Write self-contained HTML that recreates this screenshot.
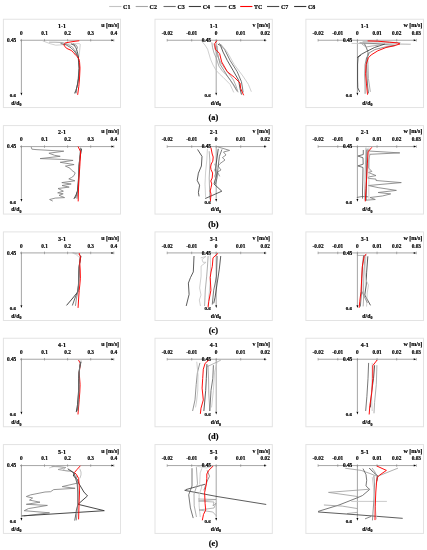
<!DOCTYPE html>
<html><head><meta charset="utf-8"><style>
html,body{margin:0;padding:0;background:#fff;}
svg{display:block;font-family:'Liberation Serif', serif;will-change:transform;filter:blur(0.3px);} text{stroke:#000;stroke-width:0.18px;fill:#000;}
</style></head><body>
<svg width="427" height="550" viewBox="0 0 427 550">
<rect width="427" height="550" fill="#fff"/>
<line x1="109.2" y1="6.5" x2="121.4" y2="6.5" stroke="#c4c4c4" stroke-width="1.1"/>
<text x="123.10" y="8.90" font-size="6.0" text-anchor="start" font-weight="bold" >C1</text>
<line x1="135.7" y1="6.5" x2="147.9" y2="6.5" stroke="#a6a6a6" stroke-width="1.1"/>
<text x="149.60" y="8.90" font-size="6.0" text-anchor="start" font-weight="bold" >C2</text>
<line x1="163.5" y1="6.5" x2="175.7" y2="6.5" stroke="#6e6e6e" stroke-width="1.1"/>
<text x="177.40" y="8.90" font-size="6.0" text-anchor="start" font-weight="bold" >C3</text>
<line x1="188.8" y1="6.5" x2="201.0" y2="6.5" stroke="#3c3c3c" stroke-width="1.1"/>
<text x="202.70" y="8.90" font-size="6.0" text-anchor="start" font-weight="bold" >C4</text>
<line x1="214.5" y1="6.5" x2="226.7" y2="6.5" stroke="#5c5c5c" stroke-width="1.1"/>
<text x="228.40" y="8.90" font-size="6.0" text-anchor="start" font-weight="bold" >C5</text>
<line x1="240.2" y1="6.5" x2="252.4" y2="6.5" stroke="#ff0000" stroke-width="1.1"/>
<text x="254.10" y="8.90" font-size="6.0" text-anchor="start" font-weight="bold" >TC</text>
<line x1="267.0" y1="6.5" x2="279.2" y2="6.5" stroke="#4a4a4a" stroke-width="1.1"/>
<text x="280.90" y="8.90" font-size="6.0" text-anchor="start" font-weight="bold" >C7</text>
<line x1="294.1" y1="6.5" x2="306.3" y2="6.5" stroke="#363636" stroke-width="1.1"/>
<text x="308.00" y="8.90" font-size="6.0" text-anchor="start" font-weight="bold" >C8</text>
<rect x="3.40" y="19.25" width="117.1" height="88.3" fill="none" stroke="#e3e3e3" stroke-width="1.0"/>
<line x1="21.40" y1="40.25" x2="111.80" y2="40.25" stroke="#808080" stroke-width="0.7"/>
<path d="M114.00,40.25 l-2.6,-1.0 l0,2.0 z" fill="#000"/>
<line x1="21.40" y1="38.95" x2="21.40" y2="41.55" stroke="#808080" stroke-width="0.6"/>
<text x="21.40" y="34.55" font-size="5.3" text-anchor="middle" font-weight="bold" >0</text>
<line x1="44.50" y1="38.95" x2="44.50" y2="41.55" stroke="#808080" stroke-width="0.6"/>
<text x="44.50" y="34.55" font-size="5.3" text-anchor="middle" font-weight="bold" >0.1</text>
<line x1="67.60" y1="38.95" x2="67.60" y2="41.55" stroke="#808080" stroke-width="0.6"/>
<text x="67.60" y="34.55" font-size="5.3" text-anchor="middle" font-weight="bold" >0.2</text>
<line x1="90.70" y1="38.95" x2="90.70" y2="41.55" stroke="#808080" stroke-width="0.6"/>
<text x="90.70" y="34.55" font-size="5.3" text-anchor="middle" font-weight="bold" >0.3</text>
<line x1="113.80" y1="38.95" x2="113.80" y2="41.55" stroke="#808080" stroke-width="0.6"/>
<text x="113.80" y="34.55" font-size="5.3" text-anchor="middle" font-weight="bold" >0.4</text>
<line x1="20.00" y1="40.25" x2="21.40" y2="40.25" stroke="#808080" stroke-width="0.7"/>
<line x1="21.40" y1="40.25" x2="21.40" y2="92.45" stroke="#808080" stroke-width="0.7"/>
<path d="M21.40,95.45 l-0.95,-2.8 l1.9,0 z" fill="#000"/>
<text x="61.95" y="27.75" font-size="6.0" text-anchor="middle" font-weight="bold" >1-1</text>
<text x="119.00" y="26.65" font-size="6.0" text-anchor="end" font-weight="bold" >u [m/s]</text>
<text x="16.20" y="42.05" font-size="5.3" text-anchor="end" font-weight="bold" >0.45</text>
<text x="16.00" y="97.45" font-size="5.0" text-anchor="end" font-weight="bold" >0.6</text>
<text x="16.40" y="104.75" font-size="5.8" text-anchor="middle" font-weight="bold">d/d<tspan font-size="4" dy="1.2">0</tspan></text>
<rect x="155.00" y="19.25" width="117.3" height="88.3" fill="none" stroke="#e3e3e3" stroke-width="1.0"/>
<line x1="167.20" y1="40.25" x2="264.43" y2="40.25" stroke="#808080" stroke-width="0.7"/>
<path d="M266.62,40.25 l-2.6,-1.0 l0,2.0 z" fill="#000"/>
<line x1="167.20" y1="38.95" x2="167.20" y2="41.55" stroke="#808080" stroke-width="0.6"/>
<text x="167.20" y="34.55" font-size="5.3" text-anchor="middle" font-weight="bold" >-0.02</text>
<line x1="191.70" y1="38.95" x2="191.70" y2="41.55" stroke="#808080" stroke-width="0.6"/>
<text x="191.70" y="34.55" font-size="5.3" text-anchor="middle" font-weight="bold" >-0.01</text>
<line x1="216.20" y1="38.95" x2="216.20" y2="41.55" stroke="#808080" stroke-width="0.6"/>
<text x="216.20" y="34.55" font-size="5.3" text-anchor="middle" font-weight="bold" >0</text>
<line x1="240.70" y1="38.95" x2="240.70" y2="41.55" stroke="#808080" stroke-width="0.6"/>
<text x="240.70" y="34.55" font-size="5.3" text-anchor="middle" font-weight="bold" >0.01</text>
<line x1="265.20" y1="38.95" x2="265.20" y2="41.55" stroke="#808080" stroke-width="0.6"/>
<text x="265.20" y="34.55" font-size="5.3" text-anchor="middle" font-weight="bold" >0.02</text>
<line x1="216.20" y1="40.25" x2="216.20" y2="92.45" stroke="#808080" stroke-width="0.7"/>
<path d="M216.20,95.45 l-0.95,-2.8 l1.9,0 z" fill="#000"/>
<text x="213.65" y="27.75" font-size="6.0" text-anchor="middle" font-weight="bold" >1-1</text>
<text x="270.00" y="26.65" font-size="6.0" text-anchor="end" font-weight="bold" >v [m/s]</text>
<text x="211.00" y="42.05" font-size="5.3" text-anchor="end" font-weight="bold" >0.45</text>
<text x="210.80" y="97.45" font-size="5.0" text-anchor="end" font-weight="bold" >0.6</text>
<text x="215.90" y="104.75" font-size="5.8" text-anchor="middle" font-weight="bold">d/d<tspan font-size="4" dy="1.2">0</tspan></text>
<rect x="305.90" y="19.25" width="117.6" height="88.3" fill="none" stroke="#e3e3e3" stroke-width="1.0"/>
<line x1="318.10" y1="40.25" x2="414.15" y2="40.25" stroke="#808080" stroke-width="0.7"/>
<path d="M416.35,40.25 l-2.6,-1.0 l0,2.0 z" fill="#000"/>
<line x1="318.10" y1="38.95" x2="318.10" y2="41.55" stroke="#808080" stroke-width="0.6"/>
<text x="318.10" y="34.55" font-size="5.3" text-anchor="middle" font-weight="bold" >-0.02</text>
<line x1="337.75" y1="38.95" x2="337.75" y2="41.55" stroke="#808080" stroke-width="0.6"/>
<text x="337.75" y="34.55" font-size="5.3" text-anchor="middle" font-weight="bold" >-0.01</text>
<line x1="357.40" y1="38.95" x2="357.40" y2="41.55" stroke="#808080" stroke-width="0.6"/>
<text x="357.40" y="34.55" font-size="5.3" text-anchor="middle" font-weight="bold" >0</text>
<line x1="377.05" y1="38.95" x2="377.05" y2="41.55" stroke="#808080" stroke-width="0.6"/>
<text x="377.05" y="34.55" font-size="5.3" text-anchor="middle" font-weight="bold" >0.01</text>
<line x1="396.70" y1="38.95" x2="396.70" y2="41.55" stroke="#808080" stroke-width="0.6"/>
<text x="396.70" y="34.55" font-size="5.3" text-anchor="middle" font-weight="bold" >0.02</text>
<line x1="416.35" y1="38.95" x2="416.35" y2="41.55" stroke="#808080" stroke-width="0.6"/>
<text x="416.35" y="34.55" font-size="5.3" text-anchor="middle" font-weight="bold" >0.03</text>
<line x1="357.40" y1="40.25" x2="357.40" y2="92.45" stroke="#808080" stroke-width="0.7"/>
<path d="M357.40,95.45 l-0.95,-2.8 l1.9,0 z" fill="#000"/>
<text x="364.70" y="27.75" font-size="6.0" text-anchor="middle" font-weight="bold" >1-1</text>
<text x="422.30" y="26.65" font-size="6.0" text-anchor="end" font-weight="bold" >w [m/s]</text>
<text x="352.20" y="42.05" font-size="5.3" text-anchor="end" font-weight="bold" >0.45</text>
<text x="352.00" y="97.45" font-size="5.0" text-anchor="end" font-weight="bold" >0.6</text>
<text x="367.40" y="104.75" font-size="5.8" text-anchor="middle" font-weight="bold">d/d<tspan font-size="4" dy="1.2">0</tspan></text>
<text x="213.40" y="120.25" font-size="8.4" text-anchor="middle" font-weight="bold" >(a)</text>
<rect x="3.40" y="125.58" width="117.1" height="88.5" fill="none" stroke="#e3e3e3" stroke-width="1.0"/>
<line x1="21.40" y1="146.58" x2="111.80" y2="146.58" stroke="#808080" stroke-width="0.7"/>
<path d="M114.00,146.58 l-2.6,-1.0 l0,2.0 z" fill="#000"/>
<line x1="21.40" y1="145.28" x2="21.40" y2="147.88" stroke="#808080" stroke-width="0.6"/>
<text x="21.40" y="141.18" font-size="5.3" text-anchor="middle" font-weight="bold" >0</text>
<line x1="44.50" y1="145.28" x2="44.50" y2="147.88" stroke="#808080" stroke-width="0.6"/>
<text x="44.50" y="141.18" font-size="5.3" text-anchor="middle" font-weight="bold" >0.1</text>
<line x1="67.60" y1="145.28" x2="67.60" y2="147.88" stroke="#808080" stroke-width="0.6"/>
<text x="67.60" y="141.18" font-size="5.3" text-anchor="middle" font-weight="bold" >0.2</text>
<line x1="90.70" y1="145.28" x2="90.70" y2="147.88" stroke="#808080" stroke-width="0.6"/>
<text x="90.70" y="141.18" font-size="5.3" text-anchor="middle" font-weight="bold" >0.3</text>
<line x1="113.80" y1="145.28" x2="113.80" y2="147.88" stroke="#808080" stroke-width="0.6"/>
<text x="113.80" y="141.18" font-size="5.3" text-anchor="middle" font-weight="bold" >0.4</text>
<line x1="20.00" y1="146.58" x2="21.40" y2="146.58" stroke="#808080" stroke-width="0.7"/>
<line x1="21.40" y1="146.58" x2="21.40" y2="198.78" stroke="#808080" stroke-width="0.7"/>
<path d="M21.40,201.78 l-0.95,-2.8 l1.9,0 z" fill="#000"/>
<text x="61.95" y="134.38" font-size="6.0" text-anchor="middle" font-weight="bold" >2-1</text>
<text x="119.00" y="133.28" font-size="6.0" text-anchor="end" font-weight="bold" >u [m/s]</text>
<text x="16.20" y="148.38" font-size="5.3" text-anchor="end" font-weight="bold" >0.45</text>
<text x="16.00" y="203.78" font-size="5.0" text-anchor="end" font-weight="bold" >0.6</text>
<text x="16.40" y="211.38" font-size="5.8" text-anchor="middle" font-weight="bold">d/d<tspan font-size="4" dy="1.2">0</tspan></text>
<rect x="155.00" y="125.58" width="117.3" height="88.5" fill="none" stroke="#e3e3e3" stroke-width="1.0"/>
<line x1="167.20" y1="146.58" x2="264.43" y2="146.58" stroke="#808080" stroke-width="0.7"/>
<path d="M266.62,146.58 l-2.6,-1.0 l0,2.0 z" fill="#000"/>
<line x1="167.20" y1="145.28" x2="167.20" y2="147.88" stroke="#808080" stroke-width="0.6"/>
<text x="167.20" y="141.18" font-size="5.3" text-anchor="middle" font-weight="bold" >-0.02</text>
<line x1="191.70" y1="145.28" x2="191.70" y2="147.88" stroke="#808080" stroke-width="0.6"/>
<text x="191.70" y="141.18" font-size="5.3" text-anchor="middle" font-weight="bold" >-0.01</text>
<line x1="216.20" y1="145.28" x2="216.20" y2="147.88" stroke="#808080" stroke-width="0.6"/>
<text x="216.20" y="141.18" font-size="5.3" text-anchor="middle" font-weight="bold" >0</text>
<line x1="240.70" y1="145.28" x2="240.70" y2="147.88" stroke="#808080" stroke-width="0.6"/>
<text x="240.70" y="141.18" font-size="5.3" text-anchor="middle" font-weight="bold" >0.01</text>
<line x1="265.20" y1="145.28" x2="265.20" y2="147.88" stroke="#808080" stroke-width="0.6"/>
<text x="265.20" y="141.18" font-size="5.3" text-anchor="middle" font-weight="bold" >0.02</text>
<line x1="216.20" y1="146.58" x2="216.20" y2="198.78" stroke="#808080" stroke-width="0.7"/>
<path d="M216.20,201.78 l-0.95,-2.8 l1.9,0 z" fill="#000"/>
<text x="213.65" y="134.38" font-size="6.0" text-anchor="middle" font-weight="bold" >2-1</text>
<text x="270.00" y="133.28" font-size="6.0" text-anchor="end" font-weight="bold" >v [m/s]</text>
<text x="211.00" y="148.38" font-size="5.3" text-anchor="end" font-weight="bold" >0.45</text>
<text x="210.80" y="203.78" font-size="5.0" text-anchor="end" font-weight="bold" >0.6</text>
<text x="215.90" y="211.38" font-size="5.8" text-anchor="middle" font-weight="bold">d/d<tspan font-size="4" dy="1.2">0</tspan></text>
<rect x="305.90" y="125.58" width="117.6" height="88.5" fill="none" stroke="#e3e3e3" stroke-width="1.0"/>
<line x1="318.10" y1="146.58" x2="414.15" y2="146.58" stroke="#808080" stroke-width="0.7"/>
<path d="M416.35,146.58 l-2.6,-1.0 l0,2.0 z" fill="#000"/>
<line x1="318.10" y1="145.28" x2="318.10" y2="147.88" stroke="#808080" stroke-width="0.6"/>
<text x="318.10" y="141.18" font-size="5.3" text-anchor="middle" font-weight="bold" >-0.02</text>
<line x1="337.75" y1="145.28" x2="337.75" y2="147.88" stroke="#808080" stroke-width="0.6"/>
<text x="337.75" y="141.18" font-size="5.3" text-anchor="middle" font-weight="bold" >-0.01</text>
<line x1="357.40" y1="145.28" x2="357.40" y2="147.88" stroke="#808080" stroke-width="0.6"/>
<text x="357.40" y="141.18" font-size="5.3" text-anchor="middle" font-weight="bold" >0</text>
<line x1="377.05" y1="145.28" x2="377.05" y2="147.88" stroke="#808080" stroke-width="0.6"/>
<text x="377.05" y="141.18" font-size="5.3" text-anchor="middle" font-weight="bold" >0.01</text>
<line x1="396.70" y1="145.28" x2="396.70" y2="147.88" stroke="#808080" stroke-width="0.6"/>
<text x="396.70" y="141.18" font-size="5.3" text-anchor="middle" font-weight="bold" >0.02</text>
<line x1="416.35" y1="145.28" x2="416.35" y2="147.88" stroke="#808080" stroke-width="0.6"/>
<text x="416.35" y="141.18" font-size="5.3" text-anchor="middle" font-weight="bold" >0.03</text>
<line x1="357.40" y1="146.58" x2="357.40" y2="198.78" stroke="#808080" stroke-width="0.7"/>
<path d="M357.40,201.78 l-0.95,-2.8 l1.9,0 z" fill="#000"/>
<text x="364.70" y="134.38" font-size="6.0" text-anchor="middle" font-weight="bold" >2-1</text>
<text x="422.30" y="133.28" font-size="6.0" text-anchor="end" font-weight="bold" >w [m/s]</text>
<text x="352.20" y="148.38" font-size="5.3" text-anchor="end" font-weight="bold" >0.45</text>
<text x="352.00" y="203.78" font-size="5.0" text-anchor="end" font-weight="bold" >0.6</text>
<text x="367.40" y="211.38" font-size="5.8" text-anchor="middle" font-weight="bold">d/d<tspan font-size="4" dy="1.2">0</tspan></text>
<text x="213.40" y="226.58" font-size="8.4" text-anchor="middle" font-weight="bold" >(b)</text>
<rect x="3.40" y="231.91" width="117.1" height="88.6" fill="none" stroke="#e3e3e3" stroke-width="1.0"/>
<line x1="21.40" y1="252.91" x2="111.80" y2="252.91" stroke="#808080" stroke-width="0.7"/>
<path d="M114.00,252.91 l-2.6,-1.0 l0,2.0 z" fill="#000"/>
<line x1="21.40" y1="251.61" x2="21.40" y2="254.21" stroke="#808080" stroke-width="0.6"/>
<text x="21.40" y="247.71" font-size="5.3" text-anchor="middle" font-weight="bold" >0</text>
<line x1="44.50" y1="251.61" x2="44.50" y2="254.21" stroke="#808080" stroke-width="0.6"/>
<text x="44.50" y="247.71" font-size="5.3" text-anchor="middle" font-weight="bold" >0.1</text>
<line x1="67.60" y1="251.61" x2="67.60" y2="254.21" stroke="#808080" stroke-width="0.6"/>
<text x="67.60" y="247.71" font-size="5.3" text-anchor="middle" font-weight="bold" >0.2</text>
<line x1="90.70" y1="251.61" x2="90.70" y2="254.21" stroke="#808080" stroke-width="0.6"/>
<text x="90.70" y="247.71" font-size="5.3" text-anchor="middle" font-weight="bold" >0.3</text>
<line x1="113.80" y1="251.61" x2="113.80" y2="254.21" stroke="#808080" stroke-width="0.6"/>
<text x="113.80" y="247.71" font-size="5.3" text-anchor="middle" font-weight="bold" >0.4</text>
<line x1="20.00" y1="252.91" x2="21.40" y2="252.91" stroke="#808080" stroke-width="0.7"/>
<line x1="21.40" y1="252.91" x2="21.40" y2="305.11" stroke="#808080" stroke-width="0.7"/>
<path d="M21.40,308.11 l-0.95,-2.8 l1.9,0 z" fill="#000"/>
<text x="61.95" y="240.91" font-size="6.0" text-anchor="middle" font-weight="bold" >3-1</text>
<text x="119.00" y="239.81" font-size="6.0" text-anchor="end" font-weight="bold" >u [m/s]</text>
<text x="16.20" y="254.71" font-size="5.3" text-anchor="end" font-weight="bold" >0.45</text>
<text x="16.00" y="310.11" font-size="5.0" text-anchor="end" font-weight="bold" >0.6</text>
<text x="16.40" y="318.21" font-size="5.8" text-anchor="middle" font-weight="bold">d/d<tspan font-size="4" dy="1.2">0</tspan></text>
<rect x="155.00" y="231.91" width="117.3" height="88.6" fill="none" stroke="#e3e3e3" stroke-width="1.0"/>
<line x1="167.20" y1="252.91" x2="264.43" y2="252.91" stroke="#808080" stroke-width="0.7"/>
<path d="M266.62,252.91 l-2.6,-1.0 l0,2.0 z" fill="#000"/>
<line x1="167.20" y1="251.61" x2="167.20" y2="254.21" stroke="#808080" stroke-width="0.6"/>
<text x="167.20" y="247.71" font-size="5.3" text-anchor="middle" font-weight="bold" >-0.02</text>
<line x1="191.70" y1="251.61" x2="191.70" y2="254.21" stroke="#808080" stroke-width="0.6"/>
<text x="191.70" y="247.71" font-size="5.3" text-anchor="middle" font-weight="bold" >-0.01</text>
<line x1="216.20" y1="251.61" x2="216.20" y2="254.21" stroke="#808080" stroke-width="0.6"/>
<text x="216.20" y="247.71" font-size="5.3" text-anchor="middle" font-weight="bold" >0</text>
<line x1="240.70" y1="251.61" x2="240.70" y2="254.21" stroke="#808080" stroke-width="0.6"/>
<text x="240.70" y="247.71" font-size="5.3" text-anchor="middle" font-weight="bold" >0.01</text>
<line x1="265.20" y1="251.61" x2="265.20" y2="254.21" stroke="#808080" stroke-width="0.6"/>
<text x="265.20" y="247.71" font-size="5.3" text-anchor="middle" font-weight="bold" >0.02</text>
<line x1="216.20" y1="252.91" x2="216.20" y2="305.11" stroke="#808080" stroke-width="0.7"/>
<path d="M216.20,308.11 l-0.95,-2.8 l1.9,0 z" fill="#000"/>
<text x="213.65" y="240.91" font-size="6.0" text-anchor="middle" font-weight="bold" >3-1</text>
<text x="270.00" y="239.81" font-size="6.0" text-anchor="end" font-weight="bold" >v [m/s]</text>
<text x="211.00" y="254.71" font-size="5.3" text-anchor="end" font-weight="bold" >0.45</text>
<text x="210.80" y="310.11" font-size="5.0" text-anchor="end" font-weight="bold" >0.6</text>
<text x="215.90" y="318.21" font-size="5.8" text-anchor="middle" font-weight="bold">d/d<tspan font-size="4" dy="1.2">0</tspan></text>
<rect x="305.90" y="231.91" width="117.6" height="88.6" fill="none" stroke="#e3e3e3" stroke-width="1.0"/>
<line x1="318.10" y1="252.91" x2="414.15" y2="252.91" stroke="#808080" stroke-width="0.7"/>
<path d="M416.35,252.91 l-2.6,-1.0 l0,2.0 z" fill="#000"/>
<line x1="318.10" y1="251.61" x2="318.10" y2="254.21" stroke="#808080" stroke-width="0.6"/>
<text x="318.10" y="247.71" font-size="5.3" text-anchor="middle" font-weight="bold" >-0.02</text>
<line x1="337.75" y1="251.61" x2="337.75" y2="254.21" stroke="#808080" stroke-width="0.6"/>
<text x="337.75" y="247.71" font-size="5.3" text-anchor="middle" font-weight="bold" >-0.01</text>
<line x1="357.40" y1="251.61" x2="357.40" y2="254.21" stroke="#808080" stroke-width="0.6"/>
<text x="357.40" y="247.71" font-size="5.3" text-anchor="middle" font-weight="bold" >0</text>
<line x1="377.05" y1="251.61" x2="377.05" y2="254.21" stroke="#808080" stroke-width="0.6"/>
<text x="377.05" y="247.71" font-size="5.3" text-anchor="middle" font-weight="bold" >0.01</text>
<line x1="396.70" y1="251.61" x2="396.70" y2="254.21" stroke="#808080" stroke-width="0.6"/>
<text x="396.70" y="247.71" font-size="5.3" text-anchor="middle" font-weight="bold" >0.02</text>
<line x1="416.35" y1="251.61" x2="416.35" y2="254.21" stroke="#808080" stroke-width="0.6"/>
<text x="416.35" y="247.71" font-size="5.3" text-anchor="middle" font-weight="bold" >0.03</text>
<line x1="357.40" y1="252.91" x2="357.40" y2="305.11" stroke="#808080" stroke-width="0.7"/>
<path d="M357.40,308.11 l-0.95,-2.8 l1.9,0 z" fill="#000"/>
<text x="364.70" y="240.91" font-size="6.0" text-anchor="middle" font-weight="bold" >3-1</text>
<text x="422.30" y="239.81" font-size="6.0" text-anchor="end" font-weight="bold" >w [m/s]</text>
<text x="352.20" y="254.71" font-size="5.3" text-anchor="end" font-weight="bold" >0.45</text>
<text x="352.00" y="310.11" font-size="5.0" text-anchor="end" font-weight="bold" >0.6</text>
<text x="367.40" y="318.21" font-size="5.8" text-anchor="middle" font-weight="bold">d/d<tspan font-size="4" dy="1.2">0</tspan></text>
<text x="213.40" y="332.91" font-size="8.4" text-anchor="middle" font-weight="bold" >(c)</text>
<rect x="3.40" y="338.24" width="117.1" height="88.5" fill="none" stroke="#e3e3e3" stroke-width="1.0"/>
<line x1="21.40" y1="359.24" x2="111.80" y2="359.24" stroke="#808080" stroke-width="0.7"/>
<path d="M114.00,359.24 l-2.6,-1.0 l0,2.0 z" fill="#000"/>
<line x1="21.40" y1="357.94" x2="21.40" y2="360.54" stroke="#808080" stroke-width="0.6"/>
<text x="21.40" y="354.04" font-size="5.3" text-anchor="middle" font-weight="bold" >0</text>
<line x1="44.50" y1="357.94" x2="44.50" y2="360.54" stroke="#808080" stroke-width="0.6"/>
<text x="44.50" y="354.04" font-size="5.3" text-anchor="middle" font-weight="bold" >0.1</text>
<line x1="67.60" y1="357.94" x2="67.60" y2="360.54" stroke="#808080" stroke-width="0.6"/>
<text x="67.60" y="354.04" font-size="5.3" text-anchor="middle" font-weight="bold" >0.2</text>
<line x1="90.70" y1="357.94" x2="90.70" y2="360.54" stroke="#808080" stroke-width="0.6"/>
<text x="90.70" y="354.04" font-size="5.3" text-anchor="middle" font-weight="bold" >0.3</text>
<line x1="113.80" y1="357.94" x2="113.80" y2="360.54" stroke="#808080" stroke-width="0.6"/>
<text x="113.80" y="354.04" font-size="5.3" text-anchor="middle" font-weight="bold" >0.4</text>
<line x1="20.00" y1="359.24" x2="21.40" y2="359.24" stroke="#808080" stroke-width="0.7"/>
<line x1="21.40" y1="359.24" x2="21.40" y2="411.44" stroke="#808080" stroke-width="0.7"/>
<path d="M21.40,414.44 l-0.95,-2.8 l1.9,0 z" fill="#000"/>
<text x="61.95" y="347.24" font-size="6.0" text-anchor="middle" font-weight="bold" >4-1</text>
<text x="119.00" y="346.14" font-size="6.0" text-anchor="end" font-weight="bold" >u [m/s]</text>
<text x="16.20" y="361.04" font-size="5.3" text-anchor="end" font-weight="bold" >0.45</text>
<text x="16.00" y="416.44" font-size="5.0" text-anchor="end" font-weight="bold" >0.6</text>
<text x="16.40" y="424.34" font-size="5.8" text-anchor="middle" font-weight="bold">d/d<tspan font-size="4" dy="1.2">0</tspan></text>
<rect x="155.00" y="338.24" width="117.3" height="88.5" fill="none" stroke="#e3e3e3" stroke-width="1.0"/>
<line x1="167.20" y1="359.24" x2="264.43" y2="359.24" stroke="#808080" stroke-width="0.7"/>
<path d="M266.62,359.24 l-2.6,-1.0 l0,2.0 z" fill="#000"/>
<line x1="167.20" y1="357.94" x2="167.20" y2="360.54" stroke="#808080" stroke-width="0.6"/>
<text x="167.20" y="354.04" font-size="5.3" text-anchor="middle" font-weight="bold" >-0.02</text>
<line x1="191.70" y1="357.94" x2="191.70" y2="360.54" stroke="#808080" stroke-width="0.6"/>
<text x="191.70" y="354.04" font-size="5.3" text-anchor="middle" font-weight="bold" >-0.01</text>
<line x1="216.20" y1="357.94" x2="216.20" y2="360.54" stroke="#808080" stroke-width="0.6"/>
<text x="216.20" y="354.04" font-size="5.3" text-anchor="middle" font-weight="bold" >0</text>
<line x1="240.70" y1="357.94" x2="240.70" y2="360.54" stroke="#808080" stroke-width="0.6"/>
<text x="240.70" y="354.04" font-size="5.3" text-anchor="middle" font-weight="bold" >0.01</text>
<line x1="265.20" y1="357.94" x2="265.20" y2="360.54" stroke="#808080" stroke-width="0.6"/>
<text x="265.20" y="354.04" font-size="5.3" text-anchor="middle" font-weight="bold" >0.02</text>
<line x1="216.20" y1="359.24" x2="216.20" y2="411.44" stroke="#808080" stroke-width="0.7"/>
<path d="M216.20,414.44 l-0.95,-2.8 l1.9,0 z" fill="#000"/>
<text x="213.65" y="347.24" font-size="6.0" text-anchor="middle" font-weight="bold" >4-1</text>
<text x="270.00" y="346.14" font-size="6.0" text-anchor="end" font-weight="bold" >v [m/s]</text>
<text x="211.00" y="361.04" font-size="5.3" text-anchor="end" font-weight="bold" >0.45</text>
<text x="210.80" y="416.44" font-size="5.0" text-anchor="end" font-weight="bold" >0.6</text>
<text x="215.90" y="424.34" font-size="5.8" text-anchor="middle" font-weight="bold">d/d<tspan font-size="4" dy="1.2">0</tspan></text>
<rect x="305.90" y="338.24" width="117.6" height="88.5" fill="none" stroke="#e3e3e3" stroke-width="1.0"/>
<line x1="318.10" y1="359.24" x2="414.15" y2="359.24" stroke="#808080" stroke-width="0.7"/>
<path d="M416.35,359.24 l-2.6,-1.0 l0,2.0 z" fill="#000"/>
<line x1="318.10" y1="357.94" x2="318.10" y2="360.54" stroke="#808080" stroke-width="0.6"/>
<text x="318.10" y="354.04" font-size="5.3" text-anchor="middle" font-weight="bold" >-0.02</text>
<line x1="337.75" y1="357.94" x2="337.75" y2="360.54" stroke="#808080" stroke-width="0.6"/>
<text x="337.75" y="354.04" font-size="5.3" text-anchor="middle" font-weight="bold" >-0.01</text>
<line x1="357.40" y1="357.94" x2="357.40" y2="360.54" stroke="#808080" stroke-width="0.6"/>
<text x="357.40" y="354.04" font-size="5.3" text-anchor="middle" font-weight="bold" >0</text>
<line x1="377.05" y1="357.94" x2="377.05" y2="360.54" stroke="#808080" stroke-width="0.6"/>
<text x="377.05" y="354.04" font-size="5.3" text-anchor="middle" font-weight="bold" >0.01</text>
<line x1="396.70" y1="357.94" x2="396.70" y2="360.54" stroke="#808080" stroke-width="0.6"/>
<text x="396.70" y="354.04" font-size="5.3" text-anchor="middle" font-weight="bold" >0.02</text>
<line x1="416.35" y1="357.94" x2="416.35" y2="360.54" stroke="#808080" stroke-width="0.6"/>
<text x="416.35" y="354.04" font-size="5.3" text-anchor="middle" font-weight="bold" >0.03</text>
<line x1="357.40" y1="359.24" x2="357.40" y2="411.44" stroke="#808080" stroke-width="0.7"/>
<path d="M357.40,414.44 l-0.95,-2.8 l1.9,0 z" fill="#000"/>
<text x="364.70" y="347.24" font-size="6.0" text-anchor="middle" font-weight="bold" >4-1</text>
<text x="422.30" y="346.14" font-size="6.0" text-anchor="end" font-weight="bold" >w [m/s]</text>
<text x="352.20" y="361.04" font-size="5.3" text-anchor="end" font-weight="bold" >0.45</text>
<text x="352.00" y="416.44" font-size="5.0" text-anchor="end" font-weight="bold" >0.6</text>
<text x="367.40" y="424.34" font-size="5.8" text-anchor="middle" font-weight="bold">d/d<tspan font-size="4" dy="1.2">0</tspan></text>
<text x="213.40" y="439.24" font-size="8.4" text-anchor="middle" font-weight="bold" >(d)</text>
<rect x="3.40" y="444.57" width="117.1" height="88.85" fill="none" stroke="#e3e3e3" stroke-width="1.0"/>
<line x1="21.40" y1="465.57" x2="111.80" y2="465.57" stroke="#808080" stroke-width="0.7"/>
<path d="M114.00,465.57 l-2.6,-1.0 l0,2.0 z" fill="#000"/>
<line x1="21.40" y1="464.27" x2="21.40" y2="466.87" stroke="#808080" stroke-width="0.6"/>
<text x="21.40" y="460.42" font-size="5.3" text-anchor="middle" font-weight="bold" >0</text>
<line x1="44.50" y1="464.27" x2="44.50" y2="466.87" stroke="#808080" stroke-width="0.6"/>
<text x="44.50" y="460.42" font-size="5.3" text-anchor="middle" font-weight="bold" >0.1</text>
<line x1="67.60" y1="464.27" x2="67.60" y2="466.87" stroke="#808080" stroke-width="0.6"/>
<text x="67.60" y="460.42" font-size="5.3" text-anchor="middle" font-weight="bold" >0.2</text>
<line x1="90.70" y1="464.27" x2="90.70" y2="466.87" stroke="#808080" stroke-width="0.6"/>
<text x="90.70" y="460.42" font-size="5.3" text-anchor="middle" font-weight="bold" >0.3</text>
<line x1="113.80" y1="464.27" x2="113.80" y2="466.87" stroke="#808080" stroke-width="0.6"/>
<text x="113.80" y="460.42" font-size="5.3" text-anchor="middle" font-weight="bold" >0.4</text>
<line x1="20.00" y1="465.57" x2="21.40" y2="465.57" stroke="#808080" stroke-width="0.7"/>
<line x1="21.40" y1="465.57" x2="21.40" y2="517.77" stroke="#808080" stroke-width="0.7"/>
<path d="M21.40,520.77 l-0.95,-2.8 l1.9,0 z" fill="#000"/>
<text x="61.95" y="453.62" font-size="6.0" text-anchor="middle" font-weight="bold" >5-1</text>
<text x="119.00" y="452.52" font-size="6.0" text-anchor="end" font-weight="bold" >u [m/s]</text>
<text x="16.20" y="467.37" font-size="5.3" text-anchor="end" font-weight="bold" >0.45</text>
<text x="16.00" y="522.77" font-size="5.0" text-anchor="end" font-weight="bold" >0.6</text>
<text x="16.40" y="531.07" font-size="5.8" text-anchor="middle" font-weight="bold">d/d<tspan font-size="4" dy="1.2">0</tspan></text>
<rect x="155.00" y="444.57" width="117.3" height="88.85" fill="none" stroke="#e3e3e3" stroke-width="1.0"/>
<line x1="167.20" y1="465.57" x2="264.43" y2="465.57" stroke="#808080" stroke-width="0.7"/>
<path d="M266.62,465.57 l-2.6,-1.0 l0,2.0 z" fill="#000"/>
<line x1="167.20" y1="464.27" x2="167.20" y2="466.87" stroke="#808080" stroke-width="0.6"/>
<text x="167.20" y="460.42" font-size="5.3" text-anchor="middle" font-weight="bold" >-0.02</text>
<line x1="191.70" y1="464.27" x2="191.70" y2="466.87" stroke="#808080" stroke-width="0.6"/>
<text x="191.70" y="460.42" font-size="5.3" text-anchor="middle" font-weight="bold" >-0.01</text>
<line x1="216.20" y1="464.27" x2="216.20" y2="466.87" stroke="#808080" stroke-width="0.6"/>
<text x="216.20" y="460.42" font-size="5.3" text-anchor="middle" font-weight="bold" >0</text>
<line x1="240.70" y1="464.27" x2="240.70" y2="466.87" stroke="#808080" stroke-width="0.6"/>
<text x="240.70" y="460.42" font-size="5.3" text-anchor="middle" font-weight="bold" >0.01</text>
<line x1="265.20" y1="464.27" x2="265.20" y2="466.87" stroke="#808080" stroke-width="0.6"/>
<text x="265.20" y="460.42" font-size="5.3" text-anchor="middle" font-weight="bold" >0.02</text>
<line x1="216.20" y1="465.57" x2="216.20" y2="517.77" stroke="#808080" stroke-width="0.7"/>
<path d="M216.20,520.77 l-0.95,-2.8 l1.9,0 z" fill="#000"/>
<text x="213.65" y="453.62" font-size="6.0" text-anchor="middle" font-weight="bold" >5-1</text>
<text x="270.00" y="452.52" font-size="6.0" text-anchor="end" font-weight="bold" >v [m/s]</text>
<text x="211.00" y="467.37" font-size="5.3" text-anchor="end" font-weight="bold" >0.45</text>
<text x="210.80" y="522.77" font-size="5.0" text-anchor="end" font-weight="bold" >0.6</text>
<text x="215.90" y="531.07" font-size="5.8" text-anchor="middle" font-weight="bold">d/d<tspan font-size="4" dy="1.2">0</tspan></text>
<rect x="305.90" y="444.57" width="117.6" height="88.85" fill="none" stroke="#e3e3e3" stroke-width="1.0"/>
<line x1="318.10" y1="465.57" x2="414.15" y2="465.57" stroke="#808080" stroke-width="0.7"/>
<path d="M416.35,465.57 l-2.6,-1.0 l0,2.0 z" fill="#000"/>
<line x1="318.10" y1="464.27" x2="318.10" y2="466.87" stroke="#808080" stroke-width="0.6"/>
<text x="318.10" y="460.42" font-size="5.3" text-anchor="middle" font-weight="bold" >-0.02</text>
<line x1="337.75" y1="464.27" x2="337.75" y2="466.87" stroke="#808080" stroke-width="0.6"/>
<text x="337.75" y="460.42" font-size="5.3" text-anchor="middle" font-weight="bold" >-0.01</text>
<line x1="357.40" y1="464.27" x2="357.40" y2="466.87" stroke="#808080" stroke-width="0.6"/>
<text x="357.40" y="460.42" font-size="5.3" text-anchor="middle" font-weight="bold" >0</text>
<line x1="377.05" y1="464.27" x2="377.05" y2="466.87" stroke="#808080" stroke-width="0.6"/>
<text x="377.05" y="460.42" font-size="5.3" text-anchor="middle" font-weight="bold" >0.01</text>
<line x1="396.70" y1="464.27" x2="396.70" y2="466.87" stroke="#808080" stroke-width="0.6"/>
<text x="396.70" y="460.42" font-size="5.3" text-anchor="middle" font-weight="bold" >0.02</text>
<line x1="416.35" y1="464.27" x2="416.35" y2="466.87" stroke="#808080" stroke-width="0.6"/>
<text x="416.35" y="460.42" font-size="5.3" text-anchor="middle" font-weight="bold" >0.03</text>
<line x1="357.40" y1="465.57" x2="357.40" y2="517.77" stroke="#808080" stroke-width="0.7"/>
<path d="M357.40,520.77 l-0.95,-2.8 l1.9,0 z" fill="#000"/>
<text x="364.70" y="453.62" font-size="6.0" text-anchor="middle" font-weight="bold" >5-1</text>
<text x="422.30" y="452.52" font-size="6.0" text-anchor="end" font-weight="bold" >w [m/s]</text>
<text x="352.20" y="467.37" font-size="5.3" text-anchor="end" font-weight="bold" >0.45</text>
<text x="352.00" y="522.77" font-size="5.0" text-anchor="end" font-weight="bold" >0.6</text>
<text x="367.40" y="531.07" font-size="5.8" text-anchor="middle" font-weight="bold">d/d<tspan font-size="4" dy="1.2">0</tspan></text>
<text x="213.40" y="545.57" font-size="8.4" text-anchor="middle" font-weight="bold" >(e)</text>
<polyline points="43.0,41.0 50.5,43.8 55.8,45.2 59.2,45.0 63.0,44.6 68.0,44.2 75.0,43.8 79.0,43.6 80.3,44.3 80.0,47.1 79.5,52.0 78.8,57.0" fill="none" stroke="#c4c4c4" stroke-width="0.8" stroke-linejoin="round" stroke-linecap="round"/>
<polyline points="49.5,42.2 55.0,42.2 62.0,42.5 66.0,43.5 72.6,47.1 76.1,52.8 78.2,56.3" fill="none" stroke="#9a9a9a" stroke-width="0.8" stroke-linejoin="round" stroke-linecap="round"/>
<polyline points="61.0,43.6 66.0,44.8 71.0,47.8 75.0,52.0 78.2,57.5" fill="none" stroke="#555555" stroke-width="0.8" stroke-linejoin="round" stroke-linecap="round"/>
<polyline points="71.5,44.0 74.0,45.0 76.0,47.8 77.3,51.5 78.4,57.0" fill="none" stroke="#333333" stroke-width="0.8" stroke-linejoin="round" stroke-linecap="round"/>
<polyline points="73.5,43.8 76.5,45.5 77.5,47.5 76.5,49.5 75.8,52.0 77.2,55.0 78.3,58.0" fill="none" stroke="#7a7a7a" stroke-width="0.8" stroke-linejoin="round" stroke-linecap="round"/>
<polyline points="78.4,57.5 78.8,62.0 79.3,68.2 79.0,73.0 78.6,78.2 77.8,83.0 77.0,87.0 75.8,90.5 74.8,93.0" fill="none" stroke="#333333" stroke-width="0.9" stroke-linejoin="round" stroke-linecap="round"/>
<polyline points="78.2,57.5 78.6,62.0 79.0,68.2 78.6,74.0 78.2,79.0 77.5,84.0 76.6,88.0 76.0,93.0" fill="none" stroke="#555555" stroke-width="0.9" stroke-linejoin="round" stroke-linecap="round"/>
<polyline points="78.9,40.8 74.0,41.4 69.1,42.2 65.5,42.9 63.8,44.5 64.8,46.6 67.0,48.5 71.2,50.4 73.3,52.3 75.4,54.9 77.5,56.8 78.9,59.1 79.6,62.5 80.0,68.2 79.7,75.0 79.4,80.0 78.8,86.4 77.7,94.5" fill="none" stroke="#ff0000" stroke-width="0.95" stroke-linejoin="round" stroke-linecap="round"/>
<polyline points="202.0,41.5 205.0,45.0 207.6,49.2 209.0,54.0 210.5,59.1 213.0,65.0 216.1,70.3 219.5,74.0 223.1,77.3 230.1,84.4 233.6,92.1" fill="none" stroke="#c4c4c4" stroke-width="0.8" stroke-linejoin="round" stroke-linecap="round"/>
<polyline points="211.9,42.9 212.6,47.8 214.0,53.0 216.1,57.7 218.9,66.1 222.0,70.5 225.9,74.5 229.5,79.0 232.9,84.4 237.2,91.4" fill="none" stroke="#9a9a9a" stroke-width="0.8" stroke-linejoin="round" stroke-linecap="round"/>
<polyline points="217.0,46.0 217.5,52.1 218.5,58.0 220.3,64.7 224.0,70.5 227.3,75.9 231.0,81.0 234.3,85.8 236.5,90.0" fill="none" stroke="#7a7a7a" stroke-width="0.8" stroke-linejoin="round" stroke-linecap="round"/>
<polyline points="218.2,44.3 220.5,45.5 223.1,52.1 227.3,60.5 233.0,70.3 238.6,80.2 240.0,88.6 241.4,94.2" fill="none" stroke="#333333" stroke-width="0.8" stroke-linejoin="round" stroke-linecap="round"/>
<polyline points="219.6,43.6 224.5,49.2 230.1,60.5 237.2,71.7 241.4,81.6 242.5,88.0 243.0,92.0" fill="none" stroke="#555555" stroke-width="0.8" stroke-linejoin="round" stroke-linecap="round"/>
<polyline points="221.0,44.3 227.3,52.1 234.3,64.7 242.8,75.9 248.4,84.4 251.2,91.4" fill="none" stroke="#c4c4c4" stroke-width="0.8" stroke-linejoin="round" stroke-linecap="round"/>
<polyline points="214.0,44.0 215.5,50.0 217.5,56.0 220.5,62.0 224.5,68.0 229.0,74.0 233.5,80.0 236.0,86.0 238.0,92.0" fill="none" stroke="#9a9a9a" stroke-width="0.8" stroke-linejoin="round" stroke-linecap="round"/>
<polyline points="216.8,40.8 214.7,43.6 215.4,49.2 219.6,53.5 221.7,61.9 227.3,71.7 234.3,77.3 240.0,83.0 240.7,88.6 243.5,94.9" fill="none" stroke="#ff0000" stroke-width="0.95" stroke-linejoin="round" stroke-linecap="round"/>
<polyline points="352.0,43.4 380.0,43.8 409.8,44.4" fill="none" stroke="#c4c4c4" stroke-width="0.8" stroke-linejoin="round" stroke-linecap="round"/>
<polyline points="357.3,43.4 385.0,43.6 410.6,44.2" fill="none" stroke="#c4c4c4" stroke-width="0.8" stroke-linejoin="round" stroke-linecap="round"/>
<polyline points="363.0,41.8 385.0,42.0 400.0,42.6" fill="none" stroke="#9a9a9a" stroke-width="0.8" stroke-linejoin="round" stroke-linecap="round"/>
<polyline points="360.0,42.8 375.0,43.6 395.0,45.5 385.0,47.0 375.0,49.5 369.0,53.0 367.5,57.0" fill="none" stroke="#7a7a7a" stroke-width="0.8" stroke-linejoin="round" stroke-linecap="round"/>
<polyline points="357.6,57.3 361.0,54.5 366.3,51.6 374.5,47.5 384.3,44.2" fill="none" stroke="#333333" stroke-width="0.8" stroke-linejoin="round" stroke-linecap="round"/>
<polyline points="364.7,44.2 366.5,48.0 368.0,52.4 367.8,56.0" fill="none" stroke="#555555" stroke-width="0.8" stroke-linejoin="round" stroke-linecap="round"/>
<polyline points="362.0,44.0 366.0,47.0 372.0,46.0 380.0,45.0" fill="none" stroke="#9a9a9a" stroke-width="0.8" stroke-linejoin="round" stroke-linecap="round"/>
<polyline points="360.5,55.5 358.1,56.9 357.6,64.0 357.6,80.0 357.8,87.8 359.5,91.5" fill="none" stroke="#333333" stroke-width="0.8" stroke-linejoin="round" stroke-linecap="round"/>
<polyline points="367.5,55.9 368.0,64.4 368.4,78.4 370.3,91.5" fill="none" stroke="#9a9a9a" stroke-width="0.8" stroke-linejoin="round" stroke-linecap="round"/>
<polyline points="366.5,58.0 365.1,64.4 364.8,75.0 365.1,85.0 365.1,93.4" fill="none" stroke="#7a7a7a" stroke-width="0.8" stroke-linejoin="round" stroke-linecap="round"/>
<polyline points="367.0,57.0 366.6,66.0 367.0,78.0 367.8,88.0 368.5,93.0" fill="none" stroke="#555555" stroke-width="0.8" stroke-linejoin="round" stroke-linecap="round"/>
<polyline points="368.0,40.9 377.8,41.2 389.3,42.2 397.5,42.9 399.9,43.9 394.2,45.8 386.0,47.5 377.8,50.8 371.2,54.9 368.4,57.8 366.1,64.4 365.6,73.7 366.4,83.1 367.5,94.3" fill="none" stroke="#ff0000" stroke-width="0.95" stroke-linejoin="round" stroke-linecap="round"/>
<polyline points="31.3,147.3 31.9,149.2 36.0,149.6 63.8,151.2 48.9,153.2 54.6,155.3 60.2,156.3 40.1,158.6 61.8,159.4 73.1,160.4 60.2,162.3 74.1,164.6 65.4,166.1 70.0,168.2 71.6,170.2 75.2,172.8 74.0,175.6 71.6,177.5 68.8,178.9 74.9,180.8 61.8,182.6 71.2,184.0 62.0,185.5 69.2,187.1 58.0,188.5 63.4,191.2 57.7,192.8 63.2,193.8 59.0,195.3 64.6,197.6 55.2,198.1 49.6,199.5 52.4,200.9" fill="none" stroke="#7a7a7a" stroke-width="0.8" stroke-linejoin="round" stroke-linecap="round"/>
<polyline points="81.5,149.4 80.8,153.0 79.8,158.4 79.0,166.0 78.7,174.8 78.2,183.0 77.4,191.2 76.0,195.0 74.1,198.6" fill="none" stroke="#333333" stroke-width="0.9" stroke-linejoin="round" stroke-linecap="round"/>
<polyline points="81.0,148.5 80.3,154.0 79.4,162.0 78.9,172.0 78.4,182.0 77.8,190.0 76.5,194.5 75.7,197.7" fill="none" stroke="#555555" stroke-width="0.9" stroke-linejoin="round" stroke-linecap="round"/>
<polyline points="80.5,148.0 79.8,156.0 79.2,166.0 78.9,176.0 78.6,186.0 77.8,193.0 77.0,198.5" fill="none" stroke="#7a7a7a" stroke-width="0.8" stroke-linejoin="round" stroke-linecap="round"/>
<polyline points="78.2,146.9 80.7,151.8 80.3,158.0 79.8,166.6 79.2,175.0 78.7,183.0 78.4,192.0 78.2,201.0" fill="none" stroke="#ff0000" stroke-width="0.95" stroke-linejoin="round" stroke-linecap="round"/>
<polyline points="197.8,149.8 202.0,156.4 201.4,166.0 198.4,173.2 197.2,180.4 199.6,185.2 198.4,192.4 199.0,196.0" fill="none" stroke="#333333" stroke-width="0.8" stroke-linejoin="round" stroke-linecap="round"/>
<polyline points="207.4,149.2 206.8,160.0 205.6,172.0 205.0,184.0 205.6,197.2" fill="none" stroke="#c4c4c4" stroke-width="0.8" stroke-linejoin="round" stroke-linecap="round"/>
<polyline points="209.2,151.6 209.8,160.0 209.8,166.0 209.2,178.0 209.6,190.0 209.8,199.0" fill="none" stroke="#9a9a9a" stroke-width="0.8" stroke-linejoin="round" stroke-linecap="round"/>
<polyline points="217.6,146.8 229.6,150.4 223.5,152.0 226.0,155.0 222.4,157.6 225.0,160.0 220.0,163.6 218.0,166.0 221.0,170.0 217.5,172.0 219.5,176.0" fill="none" stroke="#7a7a7a" stroke-width="0.8" stroke-linejoin="round" stroke-linecap="round"/>
<polyline points="221.8,149.8 219.4,156.4 218.2,166.0 217.0,178.0 215.5,184.0" fill="none" stroke="#555555" stroke-width="0.8" stroke-linejoin="round" stroke-linecap="round"/>
<polyline points="218.2,149.2 217.0,158.0 215.5,168.0 216.2,176.0 214.0,184.0 221.8,191.2 205.6,198.4" fill="none" stroke="#333333" stroke-width="0.8" stroke-linejoin="round" stroke-linecap="round"/>
<polyline points="214.5,164.0 216.0,167.0 214.5,170.0 216.0,173.0 214.5,176.0 216.0,179.0" fill="none" stroke="#9a9a9a" stroke-width="0.7" stroke-linejoin="round" stroke-linecap="round"/>
<polyline points="211.0,148.0 211.6,151.0 212.2,154.0 213.2,157.0 212.8,161.2 211.2,164.0 210.6,167.0 211.0,169.6 212.6,173.0 212.2,178.0 210.8,181.0 211.8,184.0 211.0,187.6 210.2,191.0 211.0,194.0 210.4,200.8" fill="none" stroke="#ff0000" stroke-width="0.95" stroke-linejoin="round" stroke-linecap="round"/>
<polyline points="367.9,149.0 368.5,151.0 399.8,152.9 369.9,154.3 368.8,160.0 368.6,168.0 371.8,171.4 368.5,172.5 376.0,175.6 368.4,177.0 368.3,178.4 376.0,179.1 376.0,180.5 401.3,182.6 368.3,185.5 378.1,187.6 396.4,190.4 378.1,192.5 390.7,193.9 382.3,196.0 370.0,197.5 375.3,199.5 365.5,200.2" fill="none" stroke="#7a7a7a" stroke-width="0.8" stroke-linejoin="round" stroke-linecap="round"/>
<polyline points="357.2,197.4 362.0,196.5 368.0,196.8" fill="none" stroke="#555555" stroke-width="0.7" stroke-linejoin="round" stroke-linecap="round"/>
<polyline points="366.0,148.0 365.6,160.0 365.2,172.0 365.0,184.0 364.6,194.0 365.0,200.0" fill="none" stroke="#9a9a9a" stroke-width="0.8" stroke-linejoin="round" stroke-linecap="round"/>
<polyline points="363.3,150.4 363.3,154.5 357.9,156.0 363.0,157.8 363.2,164.2 357.9,165.9 363.0,167.5 362.8,180.0 362.5,190.0 362.5,198.2" fill="none" stroke="#555555" stroke-width="0.8" stroke-linejoin="round" stroke-linecap="round"/>
<polyline points="369.0,148.0 369.2,160.0 369.0,175.0 368.8,190.0 369.0,200.0" fill="none" stroke="#c4c4c4" stroke-width="0.8" stroke-linejoin="round" stroke-linecap="round"/>
<polyline points="367.0,150.0 366.8,165.0 366.5,180.0 366.2,195.0 366.0,200.0" fill="none" stroke="#333333" stroke-width="0.8" stroke-linejoin="round" stroke-linecap="round"/>
<polyline points="371.6,147.6 368.1,151.8 367.4,163.1 366.7,177.1 366.0,188.4 365.3,201.0" fill="none" stroke="#ff0000" stroke-width="0.95" stroke-linejoin="round" stroke-linecap="round"/>
<polyline points="71.9,252.8 76.0,254.5 78.7,256.8" fill="none" stroke="#c4c4c4" stroke-width="0.7" stroke-linejoin="round" stroke-linecap="round"/>
<polyline points="73.0,252.8 78.0,254.0 80.5,256.0" fill="none" stroke="#9a9a9a" stroke-width="0.6" stroke-linejoin="round" stroke-linecap="round"/>
<polyline points="80.9,256.4 80.0,261.0 79.0,266.7 78.8,276.0 78.5,285.5 77.7,292.0 72.0,299.0 66.8,305.1" fill="none" stroke="#333333" stroke-width="0.9" stroke-linejoin="round" stroke-linecap="round"/>
<polyline points="80.5,256.0 79.5,264.0 79.0,272.0 78.6,282.0 77.9,291.0 75.0,298.0 72.5,305.1" fill="none" stroke="#555555" stroke-width="0.9" stroke-linejoin="round" stroke-linecap="round"/>
<polyline points="80.2,257.0 79.4,266.0 78.9,278.0 78.2,290.0 76.5,298.0 75.5,305.5" fill="none" stroke="#7a7a7a" stroke-width="0.8" stroke-linejoin="round" stroke-linecap="round"/>
<polyline points="79.2,253.4 80.4,256.8 79.8,263.5 80.2,270.0 80.4,278.2 79.8,285.0 79.2,290.6 78.6,299.0 78.1,307.5" fill="none" stroke="#ff0000" stroke-width="0.95" stroke-linejoin="round" stroke-linecap="round"/>
<polyline points="194.0,256.4 193.3,271.9 190.5,277.5 188.4,283.1 189.1,294.4 186.3,305.6" fill="none" stroke="#333333" stroke-width="0.8" stroke-linejoin="round" stroke-linecap="round"/>
<polyline points="201.1,257.8 206.0,256.4 202.0,259.5 203.0,262.3 206.0,262.3 201.1,266.0 201.1,276.1 199.6,288.0 201.0,295.0 199.3,300.0 200.4,305.6" fill="none" stroke="#c4c4c4" stroke-width="0.8" stroke-linejoin="round" stroke-linecap="round"/>
<polyline points="208.1,256.4 207.5,266.0 206.7,276.1 205.3,290.0 204.6,305.6" fill="none" stroke="#9a9a9a" stroke-width="0.8" stroke-linejoin="round" stroke-linecap="round"/>
<polyline points="210.2,255.0 210.5,265.0 210.2,283.0 209.0,295.0 208.1,305.6" fill="none" stroke="#c4c4c4" stroke-width="0.8" stroke-linejoin="round" stroke-linecap="round"/>
<polyline points="217.2,256.4 216.8,266.0 216.5,276.1 215.0,284.0 213.7,290.2 212.3,304.2" fill="none" stroke="#555555" stroke-width="0.8" stroke-linejoin="round" stroke-linecap="round"/>
<polyline points="220.7,256.4 219.3,269.1 217.2,283.1 215.1,297.2 213.8,303.0" fill="none" stroke="#333333" stroke-width="0.8" stroke-linejoin="round" stroke-linecap="round"/>
<polyline points="217.7,253.6 213.0,257.8 212.3,266.3 211.0,272.0 210.2,277.5 210.9,290.2 208.8,301.4 208.1,307.0" fill="none" stroke="#ff0000" stroke-width="0.95" stroke-linejoin="round" stroke-linecap="round"/>
<polyline points="357.3,255.4 366.0,255.4" fill="none" stroke="#9a9a9a" stroke-width="0.7" stroke-linejoin="round" stroke-linecap="round"/>
<polyline points="363.5,256.0 362.5,266.0 361.8,278.0 361.7,291.3 361.0,298.0 360.4,306.2" fill="none" stroke="#555555" stroke-width="0.8" stroke-linejoin="round" stroke-linecap="round"/>
<polyline points="367.8,256.7 366.6,272.8 366.2,285.0 364.8,295.0 370.3,305.0" fill="none" stroke="#333333" stroke-width="0.8" stroke-linejoin="round" stroke-linecap="round"/>
<polyline points="366.0,256.7 364.8,270.0 366.0,280.0 368.5,285.1 367.2,293.0 366.6,306.2" fill="none" stroke="#c4c4c4" stroke-width="0.8" stroke-linejoin="round" stroke-linecap="round"/>
<polyline points="361.7,291.3 364.5,297.0 367.2,302.5" fill="none" stroke="#7a7a7a" stroke-width="0.8" stroke-linejoin="round" stroke-linecap="round"/>
<polyline points="365.0,256.0 364.0,270.0 363.6,285.0 363.5,300.0 363.2,306.0" fill="none" stroke="#9a9a9a" stroke-width="0.8" stroke-linejoin="round" stroke-linecap="round"/>
<polyline points="366.0,254.2 364.1,256.7 362.3,266.6 361.7,278.9 361.0,291.3 359.8,301.2 359.2,307.4" fill="none" stroke="#ff0000" stroke-width="0.95" stroke-linejoin="round" stroke-linecap="round"/>
<polyline points="78.6,360.3 80.4,363.3 79.2,372.7 80.1,384.6 79.8,392.0 79.2,399.9 78.0,414.1" fill="none" stroke="#ff0000" stroke-width="0.95" stroke-linejoin="round" stroke-linecap="round"/>
<polyline points="78.0,359.7 81.6,360.3" fill="none" stroke="#c4c4c4" stroke-width="0.6" stroke-linejoin="round" stroke-linecap="round"/>
<polyline points="81.0,362.1 79.8,366.8 79.0,372.0 78.6,378.6 78.6,390.5 77.5,404.6 76.3,411.7" fill="none" stroke="#333333" stroke-width="0.9" stroke-linejoin="round" stroke-linecap="round"/>
<polyline points="80.6,362.0 79.6,368.0 79.0,376.0 78.9,388.0 78.2,400.0 77.3,410.0" fill="none" stroke="#555555" stroke-width="0.9" stroke-linejoin="round" stroke-linecap="round"/>
<polyline points="80.2,362.5 79.4,370.0 79.0,380.0 78.9,392.0 78.3,404.0 77.8,410.5" fill="none" stroke="#7a7a7a" stroke-width="0.8" stroke-linejoin="round" stroke-linecap="round"/>
<polyline points="199.8,363.3 197.4,372.7 196.2,384.6 195.0,399.9 192.7,410.6" fill="none" stroke="#7a7a7a" stroke-width="0.8" stroke-linejoin="round" stroke-linecap="round"/>
<polyline points="196.8,362.1 198.0,375.0 197.8,390.0 196.5,402.0 195.6,407.0" fill="none" stroke="#c4c4c4" stroke-width="0.8" stroke-linejoin="round" stroke-linecap="round"/>
<polyline points="206.9,364.5 206.3,378.6 205.7,390.5 203.9,410.6" fill="none" stroke="#333333" stroke-width="0.8" stroke-linejoin="round" stroke-linecap="round"/>
<polyline points="208.0,365.6 208.6,380.0 208.8,394.0 209.8,410.6" fill="none" stroke="#9a9a9a" stroke-width="0.8" stroke-linejoin="round" stroke-linecap="round"/>
<polyline points="213.4,365.6 212.8,378.6 211.0,390.5 209.8,410.6" fill="none" stroke="#555555" stroke-width="0.8" stroke-linejoin="round" stroke-linecap="round"/>
<polyline points="216.9,362.7 214.5,372.7 213.4,390.5 211.6,407.0" fill="none" stroke="#c4c4c4" stroke-width="0.8" stroke-linejoin="round" stroke-linecap="round"/>
<polyline points="206.9,366.8 216.9,362.1 220.5,360.3" fill="none" stroke="#9a9a9a" stroke-width="0.7" stroke-linejoin="round" stroke-linecap="round"/>
<polyline points="208.6,360.3 205.1,363.3 203.3,369.2 202.7,378.6 202.1,388.1 203.3,399.9 201.0,408.2 200.4,413.5" fill="none" stroke="#ff0000" stroke-width="0.95" stroke-linejoin="round" stroke-linecap="round"/>
<polyline points="368.6,363.3 368.0,378.6 366.9,396.4 365.7,410.6" fill="none" stroke="#555555" stroke-width="0.8" stroke-linejoin="round" stroke-linecap="round"/>
<polyline points="374.6,365.6 373.5,378.6 371.6,392.0 370.4,407.0" fill="none" stroke="#333333" stroke-width="0.8" stroke-linejoin="round" stroke-linecap="round"/>
<polyline points="376.9,365.6 376.3,384.6 374.6,402.3 374.0,412.9" fill="none" stroke="#9a9a9a" stroke-width="0.8" stroke-linejoin="round" stroke-linecap="round"/>
<polyline points="372.2,363.3 372.0,380.0 371.5,396.0 372.2,410.6" fill="none" stroke="#c4c4c4" stroke-width="0.8" stroke-linejoin="round" stroke-linecap="round"/>
<polyline points="376.9,360.3 372.8,365.6 372.8,378.6 371.6,394.0 369.8,405.8 369.2,414.1" fill="none" stroke="#ff0000" stroke-width="0.95" stroke-linejoin="round" stroke-linecap="round"/>
<polyline points="49.4,467.9 55.2,466.1 63.4,467.3 65.0,468.5 62.8,470.2 68.0,471.0 70.4,470.2 74.0,472.5" fill="none" stroke="#c4c4c4" stroke-width="0.8" stroke-linejoin="round" stroke-linecap="round"/>
<polyline points="52.0,466.5 60.0,466.8 66.0,467.5 58.0,469.5 64.0,470.5 72.0,471.5 75.0,474.0" fill="none" stroke="#9a9a9a" stroke-width="0.8" stroke-linejoin="round" stroke-linecap="round"/>
<polyline points="79.8,469.0 81.0,472.0 81.0,474.9 80.0,478.0" fill="none" stroke="#c4c4c4" stroke-width="1.0" stroke-linejoin="round" stroke-linecap="round"/>
<polyline points="77.5,483.1 62.2,486.6 75.1,488.3 53.7,489.6 50.6,491.7 45.0,492.0 30.5,494.9 26.3,496.5 32.6,498.0 29.5,500.1 40.0,502.2 26.3,504.3 47.4,505.4 28.4,508.6 24.2,510.7 49.5,512.8 24.2,515.9" fill="none" stroke="#7a7a7a" stroke-width="0.8" stroke-linejoin="round" stroke-linecap="round"/>
<polyline points="22.1,515.9 104.3,510.7 78.0,504.3 87.5,495.9 83.9,492.0 78.6,483.1 77.5,479.6 73.4,476.0 74.0,473.1 68.1,469.0" fill="none" stroke="#333333" stroke-width="0.9" stroke-linejoin="round" stroke-linecap="round"/>
<polyline points="74.0,473.0 75.5,478.0 77.2,484.0 77.8,492.0 78.0,504.3 76.4,510.0 75.9,513.8 74.8,520.2" fill="none" stroke="#555555" stroke-width="0.9" stroke-linejoin="round" stroke-linecap="round"/>
<polyline points="76.0,476.0 77.3,482.0 78.0,492.0 77.6,505.0 76.8,515.0 76.4,520.0" fill="none" stroke="#7a7a7a" stroke-width="0.8" stroke-linejoin="round" stroke-linecap="round"/>
<polyline points="80.1,466.1 77.0,469.5 74.5,472.5 76.3,474.3 78.6,478.4 79.2,485.4 79.5,492.0 79.0,505.0 78.6,519.0" fill="none" stroke="#ff0000" stroke-width="0.95" stroke-linejoin="round" stroke-linecap="round"/>
<polyline points="185.9,489.6 204.6,484.4" fill="none" stroke="#333333" stroke-width="0.8" stroke-linejoin="round" stroke-linecap="round"/>
<polyline points="184.9,490.4 217.0,496.5 265.8,504.4" fill="none" stroke="#333333" stroke-width="0.8" stroke-linejoin="round" stroke-linecap="round"/>
<polyline points="192.0,468.6 192.0,486.0 188.7,494.8 190.4,507.9 193.1,517.7" fill="none" stroke="#555555" stroke-width="0.8" stroke-linejoin="round" stroke-linecap="round"/>
<polyline points="196.4,467.5 197.5,483.8 194.0,494.0 194.2,505.7 196.4,516.6" fill="none" stroke="#9a9a9a" stroke-width="0.8" stroke-linejoin="round" stroke-linecap="round"/>
<polyline points="201.8,468.6 200.2,472.9 199.7,483.8 201.8,487.0 199.1,494.8 199.1,505.7 200.2,516.6" fill="none" stroke="#c4c4c4" stroke-width="0.8" stroke-linejoin="round" stroke-linecap="round"/>
<polyline points="207.3,470.7 209.5,476.2 207.9,479.5 206.2,483.8 204.0,490.0" fill="none" stroke="#7a7a7a" stroke-width="0.8" stroke-linejoin="round" stroke-linecap="round"/>
<polyline points="198.5,499.0 216.0,499.5 198.5,501.0 214.0,502.0 213.0,506.0 216.0,503.0 214.0,508.0 199.0,510.0 212.8,512.0 216.0,515.5" fill="none" stroke="#9a9a9a" stroke-width="0.7" stroke-linejoin="round" stroke-linecap="round"/>
<polyline points="196.0,466.0 206.0,468.0 214.0,466.0" fill="none" stroke="#c4c4c4" stroke-width="0.7" stroke-linejoin="round" stroke-linecap="round"/>
<polyline points="212.8,466.4 208.9,470.2 206.8,474.0 206.8,478.4 206.2,484.9 204.6,492.6 205.1,503.5 205.7,510.1 203.5,514.4 202.4,519.9" fill="none" stroke="#ff0000" stroke-width="0.95" stroke-linejoin="round" stroke-linecap="round"/>
<polyline points="345.6,468.3 361.1,470.4 370.0,473.5 377.4,476.4 397.6,468.3" fill="none" stroke="#9a9a9a" stroke-width="0.8" stroke-linejoin="round" stroke-linecap="round"/>
<polyline points="363.2,469.0 366.0,474.6 366.7,480.3 366.0,485.9 369.6,489.5 362.5,495.5 358.0,497.5 339.0,505.0 318.5,511.3" fill="none" stroke="#555555" stroke-width="0.8" stroke-linejoin="round" stroke-linecap="round"/>
<polyline points="369.5,468.3 373.7,472.5 377.9,476.0 376.8,481.0" fill="none" stroke="#333333" stroke-width="0.8" stroke-linejoin="round" stroke-linecap="round"/>
<polyline points="372.3,468.3 375.0,472.0 377.0,476.5 376.3,484.0" fill="none" stroke="#9a9a9a" stroke-width="0.8" stroke-linejoin="round" stroke-linecap="round"/>
<polyline points="369.6,489.2 328.5,492.4 358.0,496.6" fill="none" stroke="#9a9a9a" stroke-width="0.8" stroke-linejoin="round" stroke-linecap="round"/>
<polyline points="351.7,501.4 386.5,501.4" fill="none" stroke="#c4c4c4" stroke-width="0.9" stroke-linejoin="round" stroke-linecap="round"/>
<polyline points="324.3,505.0 342.2,506.1 357.0,508.5" fill="none" stroke="#9a9a9a" stroke-width="0.8" stroke-linejoin="round" stroke-linecap="round"/>
<polyline points="347.5,513.5 357.0,512.4" fill="none" stroke="#9a9a9a" stroke-width="0.8" stroke-linejoin="round" stroke-linecap="round"/>
<polyline points="318.5,512.0 360.0,515.0 402.3,518.3" fill="none" stroke="#333333" stroke-width="0.8" stroke-linejoin="round" stroke-linecap="round"/>
<polyline points="365.4,518.7 370.7,516.6" fill="none" stroke="#555555" stroke-width="0.7" stroke-linejoin="round" stroke-linecap="round"/>
<polyline points="373.9,476.0 374.5,485.0 373.9,500.0 373.0,512.0 372.5,520.0" fill="none" stroke="#7a7a7a" stroke-width="0.8" stroke-linejoin="round" stroke-linecap="round"/>
<polyline points="372.3,477.5 373.5,487.3 374.6,500.0 375.5,510.0 376.5,519.0" fill="none" stroke="#c4c4c4" stroke-width="0.8" stroke-linejoin="round" stroke-linecap="round"/>
<polyline points="377.2,466.2 386.4,470.4 379.3,475.3 377.2,477.5 376.5,483.1 375.8,492.0 375.2,506.8 375.0,519.7" fill="none" stroke="#ff0000" stroke-width="0.95" stroke-linejoin="round" stroke-linecap="round"/>
</svg></body></html>
